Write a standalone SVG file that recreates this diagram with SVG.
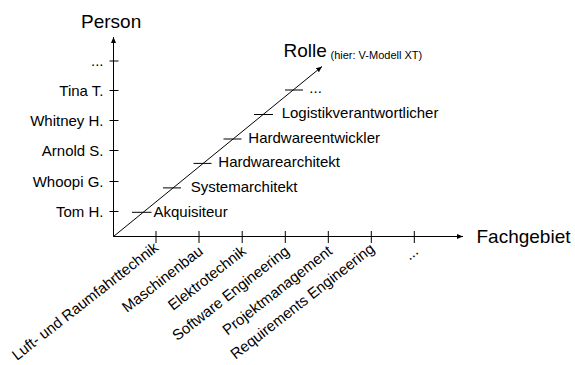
<svg xmlns="http://www.w3.org/2000/svg" width="575" height="365" viewBox="0 0 575 365">
<style>
  .ax { stroke: #000; stroke-width: 1; fill: none; }
  .tk { stroke: #000; stroke-width: 1; }
  text { font-family: "Liberation Sans", Arial, sans-serif; fill: #000; }
  .big { font-size: 19px; }
  .lbl { font-size: 15px; }
  .sm { font-size: 11px; }
  .yl { text-anchor: end; }
  .xl { text-anchor: end; }
</style>
<defs>
  <marker id="arr" viewBox="0 0 6 5" refX="6" refY="2.5" markerWidth="6" markerHeight="5" markerUnits="userSpaceOnUse" orient="auto">
    <path d="M0,0 L6,2.5 L0,5 Z" fill="#000"/>
  </marker>
</defs>
<rect width="575" height="365" fill="#fff"/>
<g id="connectors">
  <line class="ax" x1="113.5" y1="236.5" x2="113.5" y2="37" marker-end="url(#arr)"/>
  <line class="ax" x1="113.5" y1="236.5" x2="463" y2="236.5" marker-end="url(#arr)"/>
  <line class="ax" x1="113.5" y1="236.5" x2="322" y2="66.5" marker-end="url(#arr)"/>
  <g id="y-ticks">
    <line class="tk" x1="109.5" y1="61" x2="118.5" y2="61"/>
    <line class="tk" x1="109.5" y1="90.5" x2="118.5" y2="90.5"/>
    <line class="tk" x1="109.5" y1="120.5" x2="118.5" y2="120.5"/>
    <line class="tk" x1="109.5" y1="150.5" x2="118.5" y2="150.5"/>
    <line class="tk" x1="109.5" y1="181.5" x2="118.5" y2="181.5"/>
    <line class="tk" x1="109.5" y1="211.5" x2="118.5" y2="211.5"/>
  </g>
  <g id="x-ticks">
    <line class="tk" x1="156" y1="231" x2="156" y2="243"/>
    <line class="tk" x1="199" y1="231" x2="199" y2="243"/>
    <line class="tk" x1="242.2" y1="231" x2="242.2" y2="243"/>
    <line class="tk" x1="285.3" y1="231" x2="285.3" y2="243"/>
    <line class="tk" x1="328.3" y1="231" x2="328.3" y2="243"/>
    <line class="tk" x1="371.3" y1="231" x2="371.3" y2="243"/>
    <line class="tk" x1="414.3" y1="231" x2="414.3" y2="243"/>
  </g>
  <g id="d-ticks">
    <line class="tk" x1="132" y1="212.3" x2="151.5" y2="212.3"/>
    <line class="tk" x1="163" y1="187.9" x2="181" y2="187.9"/>
    <line class="tk" x1="193.5" y1="163.4" x2="211.5" y2="163.4"/>
    <line class="tk" x1="223.5" y1="139" x2="241.5" y2="139"/>
    <line class="tk" x1="254" y1="114.5" x2="273" y2="114.5"/>
    <line class="tk" x1="285" y1="90" x2="303" y2="90"/>
  </g>
</g>
<g id="axis-person"><text class="big" x="81" y="27.5">Person</text></g>
<g id="axis-rolle"><text class="big" x="283.5" y="56.5">Rolle</text><text class="sm" x="330.5" y="58.5">(hier: V-Modell XT)</text></g>
<g id="axis-fachgebiet"><text class="big" x="476.5" y="242.5">Fachgebiet</text></g>
<g id="persons">
  <text class="lbl yl" x="103.5" y="66">...</text>
  <text class="lbl yl" x="103.5" y="95.8">Tina T.</text>
  <text class="lbl yl" x="103.5" y="126">Whitney H.</text>
  <text class="lbl yl" x="103.5" y="156">Arnold S.</text>
  <text class="lbl yl" x="103.5" y="187">Whoopi G.</text>
  <text class="lbl yl" x="103.5" y="216.8">Tom H.</text>
</g>
<g id="rollen">
  <text class="lbl" x="153.5" y="216.7">Akquisiteur</text>
  <text class="lbl" x="190.7" y="191.7">Systemarchitekt</text>
  <text class="lbl" x="218.3" y="166.8">Hardwarearchitekt</text>
  <text class="lbl" x="248.3" y="142.5">Hardwareentwickler</text>
  <text class="lbl" x="281.7" y="118.2">Logistikverantwortlicher</text>
  <text class="lbl" x="309.3" y="93.3">...</text>
</g>
<g id="fachgebiete">
  <text class="lbl xl" transform="translate(159.5,249.5) rotate(-38)">Luft- und Raumfahrttechnik</text>
  <text class="lbl xl" transform="translate(204,253) rotate(-38)">Maschinenbau</text>
  <text class="lbl xl" transform="translate(247.2,253) rotate(-38)">Elektrotechnik</text>
  <text class="lbl xl" transform="translate(290.3,253) rotate(-38)">Software Engineering</text>
  <text class="lbl xl" transform="translate(333.3,253) rotate(-38)">Projektmanagement</text>
  <text class="lbl xl" transform="translate(375.5,250.5) rotate(-38)">Requirements Engineering</text>
  <text class="lbl xl" transform="translate(419.3,253) rotate(-38)">...</text>
</g>
</svg>
